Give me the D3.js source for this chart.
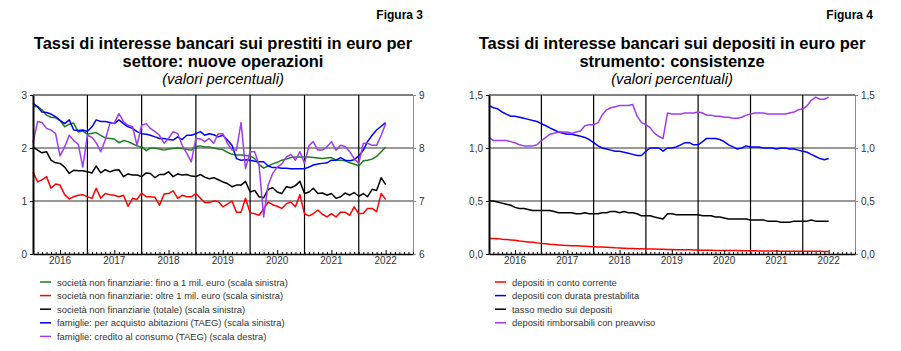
<!DOCTYPE html>
<html>
<head>
<meta charset="utf-8">
<script src="https://cdn.jsdelivr.net/npm/d3@7"></script>
<style>
  body { margin: 0; background: #fff; }
  svg { font-family: "Liberation Sans", Arial, sans-serif; }
</style>
</head>
<body>
<svg id="chart" width="901" height="351"></svg>
<script>
/* DATA */
// monthly observations, Jan 2016 - Jul 2022
const months = d3.timeMonth.range(new Date(2016, 0, 1), new Date(2022, 7, 1));
const yearLabels = [2016, 2017, 2018, 2019, 2020, 2021, 2022];
const yearBreaks = [2017, 2018, 2019, 2020, 2021, 2022];

// Figura 3 - prestiti (scala sinistra, tranne credito al consumo)
const snfFino1 = [2.79,2.78,2.72,2.62,2.58,2.57,2.52,2.40,2.45,2.47,2.30,2.32,2.26,2.28,2.29,2.24,2.19,2.18,2.17,2.10,
  2.14,2.12,2.08,2.04,2.02,1.95,2.00,2.00,1.98,1.96,1.98,1.99,2.00,1.99,1.97,1.96,2.03,2.04,2.02,2.02,
  2.00,1.98,1.97,1.92,1.88,1.87,1.87,1.86,1.85,1.80,1.69,1.62,1.66,1.70,1.73,1.77,1.79,1.82,1.83,1.83,
  1.83,1.83,1.82,1.81,1.80,1.81,1.82,1.77,1.77,1.76,1.72,1.70,1.66,1.76,1.77,1.79,1.84,1.93,2.02];
const snfOltre1 = [1.55,1.36,1.40,1.46,1.24,1.32,1.30,1.12,1.04,1.08,1.11,1.12,1.08,1.05,1.24,1.05,1.14,1.12,1.11,1.08,
  1.11,0.90,1.05,1.03,1.15,1.08,1.08,1.07,0.92,1.13,1.14,1.19,1.05,1.11,1.08,1.08,1.14,1.05,0.97,0.97,
  1.00,0.99,0.89,0.94,1.00,0.79,0.79,1.05,0.78,0.76,0.73,0.85,0.98,0.93,0.90,0.86,0.95,0.98,0.89,1.12,
  0.76,0.72,0.76,0.83,0.75,0.70,0.76,0.70,0.79,0.79,0.73,0.89,0.76,0.77,0.86,0.86,0.80,1.14,1.03];
const snfTotale = [2.02,1.96,1.91,1.93,1.77,1.72,1.71,1.64,1.52,1.58,1.57,1.57,1.55,1.53,1.66,1.53,1.59,1.55,1.58,1.59,
  1.46,1.51,1.49,1.49,1.46,1.53,1.52,1.44,1.50,1.50,1.55,1.46,1.51,1.49,1.50,1.47,1.46,1.50,1.45,1.42,
  1.44,1.40,1.36,1.33,1.27,1.30,1.30,1.37,1.17,1.20,1.08,1.06,1.22,1.25,1.17,1.14,1.27,1.25,1.29,1.37,
  1.14,1.17,1.24,1.14,1.15,1.11,1.14,1.05,1.08,1.15,1.11,1.16,1.09,1.14,1.08,1.22,1.20,1.44,1.31];
const famAbitazioni = [2.84,2.78,2.68,2.67,2.64,2.59,2.52,2.46,2.53,2.34,2.33,2.34,2.31,2.40,2.53,2.50,2.50,2.48,2.46,2.53,
  2.46,2.40,2.37,2.31,2.27,2.26,2.24,2.21,2.18,2.18,2.16,2.15,2.21,2.16,2.24,2.24,2.27,2.31,2.24,2.27,
  2.25,2.21,2.24,2.15,2.05,1.80,1.77,1.78,1.77,1.75,1.74,1.74,1.66,1.63,1.63,1.62,1.62,1.61,1.61,1.61,
  1.61,1.64,1.68,1.70,1.71,1.72,1.77,1.77,1.82,1.77,1.76,1.78,1.85,1.96,2.12,2.24,2.34,2.41,2.48];
const famConsumo = [8.10,8.50,8.48,8.37,8.34,8.27,7.85,8.02,8.24,8.14,8.07,7.64,8.24,8.20,8.10,7.93,8.15,8.46,8.47,8.65,
  8.50,8.43,8.40,8.05,8.43,8.46,8.37,8.31,8.24,8.09,8.18,8.31,8.27,8.05,7.90,7.74,8.18,8.17,8.12,8.18,
  8.09,8.27,8.27,8.09,7.96,7.96,8.48,7.61,7.93,7.93,7.68,6.70,7.30,7.52,7.64,7.70,7.83,7.88,7.77,7.93,
  7.71,8.05,8.12,7.96,7.96,8.02,8.12,7.96,8.05,8.03,7.93,7.80,7.71,8.09,8.09,8.05,8.05,8.24,8.46];

// Figura 4 - depositi
const depContoCorrente = [0.146,0.146,0.145,0.140,0.137,0.133,0.130,0.122,0.118,0.114,0.110,0.105,0.100,0.097,0.092,0.089,0.086,0.083,0.081,0.079,
  0.077,0.075,0.073,0.071,0.069,0.067,0.065,0.063,0.061,0.058,0.056,0.054,0.052,0.051,0.050,0.049,0.048,0.047,0.046,0.045,
  0.044,0.043,0.042,0.041,0.040,0.040,0.039,0.038,0.037,0.036,0.035,0.035,0.034,0.034,0.033,0.033,0.032,0.032,0.031,0.031,
  0.030,0.030,0.029,0.029,0.028,0.028,0.028,0.027,0.027,0.027,0.026,0.026,0.026,0.025,0.025,0.025,0.025,0.024,0.024];
const depDurata = [1.40,1.38,1.37,1.34,1.32,1.30,1.30,1.29,1.28,1.27,1.26,1.25,1.23,1.21,1.19,1.17,1.15,1.14,1.13,1.13,
  1.12,1.11,1.10,1.08,1.05,1.02,1.00,0.99,0.98,0.97,0.97,0.96,0.95,0.94,0.93,0.93,0.97,1.00,1.00,1.00,
  0.97,1.00,1.00,1.01,1.03,1.05,1.05,1.03,1.03,1.06,1.09,1.09,1.09,1.08,1.06,1.03,1.01,0.99,1.00,1.02,
  1.01,1.01,1.01,1.00,1.00,1.00,0.99,1.00,1.00,0.99,0.99,0.98,0.97,0.96,0.94,0.92,0.90,0.89,0.90];
const depMedio = [0.50,0.50,0.49,0.48,0.47,0.46,0.44,0.43,0.43,0.42,0.41,0.41,0.41,0.41,0.41,0.40,0.39,0.39,0.39,0.39,
  0.38,0.38,0.39,0.38,0.38,0.38,0.39,0.39,0.40,0.40,0.39,0.40,0.39,0.39,0.38,0.36,0.36,0.36,0.35,0.34,
  0.33,0.38,0.38,0.37,0.37,0.37,0.37,0.37,0.37,0.36,0.36,0.36,0.35,0.35,0.34,0.33,0.33,0.33,0.33,0.33,
  0.32,0.32,0.32,0.32,0.31,0.31,0.31,0.30,0.30,0.30,0.31,0.31,0.31,0.31,0.32,0.31,0.31,0.31,0.31];
const depPreavviso = [1.10,1.07,1.07,1.07,1.07,1.06,1.05,1.03,1.02,1.02,1.02,1.03,1.07,1.10,1.13,1.14,1.15,1.15,1.15,1.14,
  1.15,1.16,1.21,1.22,1.22,1.24,1.31,1.36,1.38,1.39,1.40,1.40,1.40,1.41,1.30,1.24,1.22,1.19,1.14,1.11,
  1.09,1.33,1.32,1.32,1.32,1.33,1.33,1.33,1.34,1.33,1.31,1.31,1.30,1.30,1.29,1.29,1.28,1.28,1.29,1.31,
  1.32,1.33,1.33,1.33,1.32,1.32,1.32,1.32,1.32,1.33,1.34,1.36,1.37,1.40,1.45,1.48,1.46,1.46,1.48];

/* CONSTANTS */
const plotTop = 95, plotBottom = 254;
const svg = d3.select("#chart");

const panels = [
  {
    fig: "Figura 3",
    title: ["Tassi di interesse bancari sui prestiti in euro per", "settore: nuove operazioni"],
    cx: 223, figX: 423,
    left: 33, right: 413,
    yDomain: [0, 3], yTicks: [0, 1, 2, 3],
    y2Domain: [6, 9], y2Ticks: [6, 7, 8, 9],
    grid: [1, 2],
    fmt: d3.format("d"),
    legendX: 40,
    series: [
      { name: "società non finanziarie: fino a 1 mil. euro (scala sinistra)", values: snfFino1, color: "#1e7d1e" },
      { name: "società non finanziarie: oltre 1 mil. euro (scala sinistra)", values: snfOltre1, color: "#ff0000" },
      { name: "società non finanziarie (totale) (scala sinistra)", values: snfTotale, color: "#000000" },
      { name: "famiglie: per acquisto abitazioni (TAEG) (scala sinistra)", values: famAbitazioni, color: "#0000ff" },
      { name: "famiglie: credito al consumo (TAEG) (scala destra)", values: famConsumo, color: "#a03cf0", right: true }
    ]
  },
  {
    fig: "Figura 4",
    title: ["Tassi di interesse bancari sui depositi in euro per", "strumento: consistenze"],
    cx: 672, figX: 873,
    left: 489, right: 855,
    yDomain: [0, 1.5], yTicks: [0, 0.5, 1, 1.5],
    y2Domain: [0, 1.5], y2Ticks: [0, 0.5, 1, 1.5],
    grid: [0.5, 1],
    fmt: d => d.toFixed(1).replace(".", ","),
    legendX: 495,
    series: [
      { name: "depositi in conto corrente", values: depContoCorrente, color: "#ff0000" },
      { name: "depositi con durata prestabilita", values: depDurata, color: "#0000ff" },
      { name: "tasso medio sui depositi", values: depMedio, color: "#000000" },
      { name: "depositi rimborsabili con preavviso", values: depPreavviso, color: "#a03cf0" }
    ]
  }
];

panels.forEach(drawPanel);

function drawPanel(p) {
  const g = svg.append("g");

  const x = d3.scaleTime()
    .domain([new Date(2016, 0, 1), new Date(2023, 0, 1)])
    .range([p.left, p.right]);
  const y = d3.scaleLinear().domain(p.yDomain).range([plotBottom, plotTop]);
  const y2 = d3.scaleLinear().domain(p.y2Domain).range([plotBottom, plotTop]);

  // headings
  g.append("text")
    .attr("x", p.figX).attr("y", 19)
    .attr("text-anchor", "end")
    .attr("font-weight", "bold").attr("font-size", 12)
    .text(p.fig);
  g.selectAll(".title")
    .data(p.title)
    .join("text")
    .attr("x", p.cx)
    .attr("y", (d, i) => 49 + i * 18)
    .attr("text-anchor", "middle")
    .attr("font-weight", "bold").attr("font-size", 16.5)
    .text(d => d);
  g.append("text")
    .attr("x", p.cx).attr("y", 84)
    .attr("text-anchor", "middle")
    .attr("font-style", "italic").attr("font-size", 14.8)
    .text("(valori percentuali)");

  // grid lines
  g.selectAll(".grid")
    .data(p.grid)
    .join("line")
    .attr("x1", p.left).attr("x2", p.right)
    .attr("y1", d => y(d)).attr("y2", d => y(d))
    .attr("stroke", "#777").attr("stroke-width", 1.5);

  // year separators
  g.selectAll(".yr")
    .data(yearBreaks)
    .join("line")
    .attr("x1", d => x(new Date(d, 0, 1))).attr("x2", d => x(new Date(d, 0, 1)))
    .attr("y1", plotTop).attr("y2", plotBottom)
    .attr("stroke", "#000").attr("stroke-width", 1.2);

  // series
  const line = sc => d3.line()
    .x((d, i) => x(months[i]))
    .y(d => sc(d));
  p.series.forEach(s => {
    g.append("path")
      .datum(s.values)
      .attr("fill", "none")
      .attr("stroke", s.color)
      .attr("stroke-width", 1.5)
      .attr("stroke-linejoin", "round")
      .attr("d", line(s.right ? y2 : y));
  });

  // axes
  const yAxisL = g.append("g")
    .attr("transform", `translate(${p.left},0)`)
    .call(d3.axisLeft(y).tickValues(p.yTicks).tickFormat(p.fmt).tickSize(3).tickSizeOuter(0));
  const yAxisR = g.append("g")
    .attr("transform", `translate(${p.right},0)`)
    .call(d3.axisRight(y2).tickValues(p.y2Ticks).tickFormat(p.fmt).tickSize(3).tickSizeOuter(0));
  yAxisL.select(".domain").attr("stroke", "#000").attr("stroke-width", 2);
  yAxisR.select(".domain").attr("stroke", "#888");
  yAxisR.selectAll(".tick line").attr("stroke", "#888");
  [yAxisL, yAxisR].forEach(a => a.selectAll("text").attr("font-size", 10).attr("fill", "#333").attr("font-family", null));

  // top border
  g.append("line")
    .attr("x1", p.left).attr("x2", p.right)
    .attr("y1", plotTop).attr("y2", plotTop)
    .attr("stroke", "#000");

  // bottom axis: monthly minor ticks pointing inward
  const xAxis = g.append("g")
    .attr("transform", `translate(0,${plotBottom})`)
    .call(d3.axisBottom(x)
      .ticks(d3.timeMonth.every(1))
      .tickSize(-2).tickSizeOuter(0)
      .tickFormat(""));
  xAxis.select(".domain").attr("stroke", "#000").attr("stroke-width", 1.5);
  xAxis.selectAll(".tick line")
    .filter(d => d.getMonth() === 6)
    .attr("y2", -4);

  g.selectAll(".yl")
    .data(yearLabels)
    .join("text")
    .attr("x", d => x(new Date(d, 6, 1)))
    .attr("y", 264)
    .attr("text-anchor", "middle")
    .attr("font-size", 10).attr("fill", "#333")
    .text(d => d);

  // legend
  const lg = g.selectAll(".lg")
    .data(p.series)
    .join("g")
    .attr("transform", (d, i) => `translate(${p.legendX},${282 + i * 13.6})`);
  lg.append("line")
    .attr("x1", 0).attr("x2", 11)
    .attr("stroke", d => d.color).attr("stroke-width", 1.5);
  lg.append("text")
    .attr("x", 17).attr("y", 3.5)
    .attr("font-size", 9.4).attr("fill", "#333")
    .text(d => d.name);
}
</script>
</body>
</html>
